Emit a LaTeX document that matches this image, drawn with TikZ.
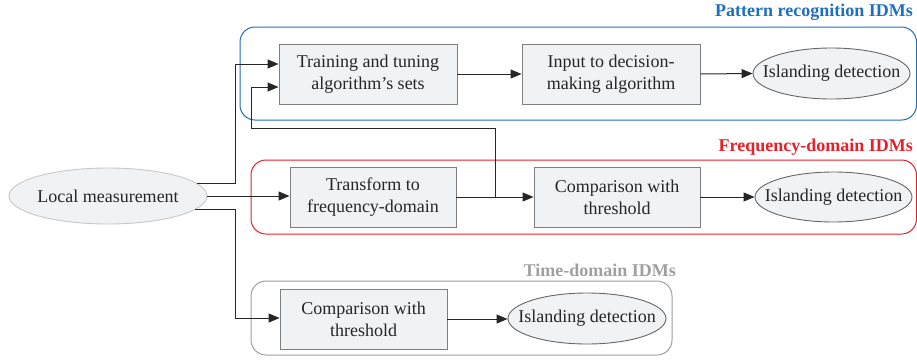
\documentclass[tikz,border=0pt]{standalone}
\usepackage{fontspec}
\setmainfont{Liberation Serif}
\usetikzlibrary{arrows.meta,shapes.geometric}
\definecolor{pblue}{HTML}{1F6FBF}
\definecolor{fred}{HTML}{E8202A}
\definecolor{tgray}{HTML}{A0A0A0}
\definecolor{boxfill}{HTML}{F1F2F4}
\definecolor{boxline}{HTML}{7F7F7F}
\definecolor{lineblk}{HTML}{262626}
\tikzset{
  procbox/.style={draw=boxline,fill=boxfill,line width=0.9pt,rectangle,inner sep=0pt,align=center,text=lineblk,font=\fontsize{18}{22}\selectfont},
  endell/.style={draw=boxline!80!black,fill=boxfill,line width=0.9pt,ellipse,inner xsep=-20pt,inner ysep=0pt,align=center,text=lineblk,font=\fontsize{18}{22}\selectfont},
  srcell/.style={draw=black!22,fill=boxfill,line width=0.9pt,ellipse,inner xsep=-20pt,inner ysep=0pt,align=center,text=lineblk,font=\fontsize{18}{22}\selectfont},
  group/.style={rounded corners=15pt,line width=1pt},
  gtitle/.style={font=\fontsize{18}{20}\selectfont\bfseries,anchor=east,inner sep=0pt},
  arr/.style={draw=lineblk,line width=1pt,-{Triangle[length=11pt,width=9pt]}},
}
\begin{document}
\begin{tikzpicture}[x=1pt,y=-1pt]
\useasboundingbox (0,0) rectangle (917,359);
% containers
\draw[group,draw=pblue] (240,27) rectangle (916.5,120);
\draw[group,draw=fred] (251,160) rectangle (916.5,234);
\draw[group,draw=tgray] (251,281) rectangle (672,355);
\node[gtitle,text=pblue] (tp) at (913,12) {Pattern recognition IDMs};
\node[gtitle,text=fred] (tf) at (913,147) {Frequency-domain IDMs};
\node[gtitle,text=tgray] (tt) at (676,270) {Time-domain IDMs};
% nodes
\node[procbox,minimum width=178pt,minimum height=60pt] (train) at (368,74) {Training and tuning\\algorithm’s sets};
\node[procbox,minimum width=178pt,minimum height=60pt] (input) at (611,74) {Input to decision-\\making algorithm};
\node[endell,minimum width=157pt,minimum height=51pt] (isl1) at (831.5,73.5) {Islanding detection};
\node[procbox,minimum width=166pt,minimum height=60pt] (trans) at (373,197) {Transform to\\frequency-domain};
\node[procbox,minimum width=166pt,minimum height=60pt] (comp2) at (617,197) {Comparison with\\threshold};
\node[endell,minimum width=157pt,minimum height=50pt] (isl2) at (833.5,197) {Islanding detection};
\node[srcell,minimum width=198pt,minimum height=56pt] (lm) at (108,196) {Local measurement};
\node[procbox,minimum width=167pt,minimum height=60pt] (comp3) at (363.5,319) {Comparison with\\threshold};
\node[endell,minimum width=158pt,minimum height=51pt] (isl3) at (587,318.5) {Islanding detection};
% connectors
\coordinate (c1) at (235,64);
\coordinate (c3) at (235,318);
\draw[arr] (lm.8) -| (c1) -- ([yshift=10pt]train.west);
\draw[arr] (lm.east) -- (trans.west |- lm.east);
\draw[arr] (lm.-9) -| (c3) -- (comp3.west |- c3);
\draw[arr] (train.east) -- (input.west);
\draw[arr] (input.east) -- (isl1.west);
\draw[arr] (trans.east) -- (comp2.west);
\draw[arr] (comp2.east) -- (isl2.west);
\draw[arr] (comp3.east) -- (comp3.east -| isl3.west);
\coordinate (f0) at (495,197);
\coordinate (f1) at (251,128);
\draw[arr] (f0) |- (f1) |- ([yshift=-13pt]train.west);
\end{tikzpicture}
\end{document}
